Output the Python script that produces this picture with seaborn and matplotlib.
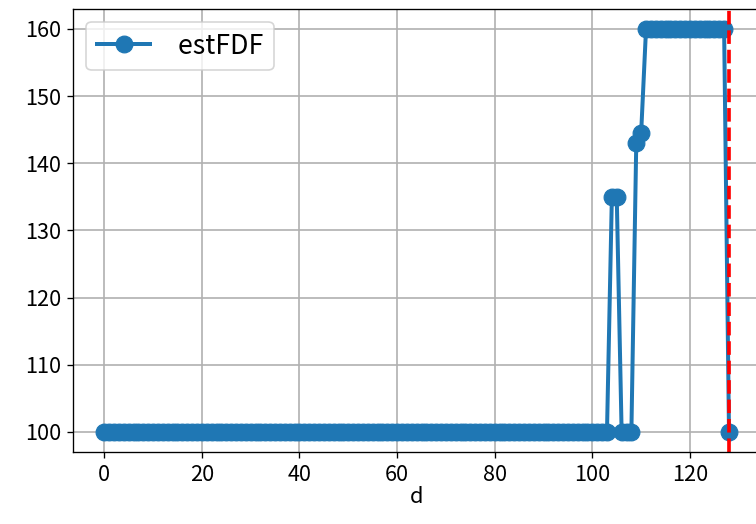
import numpy as np
import pandas as pd
import seaborn as sns
import matplotlib.pyplot as plt

plt.rcParams['font.family'] = ['Noto Sans CJK JP', 'DejaVu Sans']
plt.rcParams['font.size'] = 13

# values (d = 0..128)
d = list(range(129))
est_fdf = ([100] * 104
           + [135, 135, 100, 100, 100, 143, 144.5]
           + [160] * 17
           + [100])
true_d = 128

df = pd.DataFrame({'d': d, 'estFDF': est_fdf})

fig = plt.figure(figsize=(6.3, 4.3667), dpi=120)
ax = fig.add_axes([0.0966, 0.1374, 0.909, 0.8458])
sns.lineplot(data=df, x='d', y='estFDF', marker='o', markersize=10,
             linewidth=2.4, color='#1f77b4', markeredgecolor='#1f77b4',
             label=' estFDF', ax=ax)
ax.axvline(true_d, color='red', linestyle='--', linewidth=2.2)
ax.grid(True, color='#b0b0b0', linewidth=1)
ax.set_ylabel('')
ax.set_xlabel('d', fontsize=13, labelpad=0)
ax.tick_params(labelsize=13)
ax.legend(loc='upper left', fontsize=16)
fig.savefig('out.png', dpi=120)
